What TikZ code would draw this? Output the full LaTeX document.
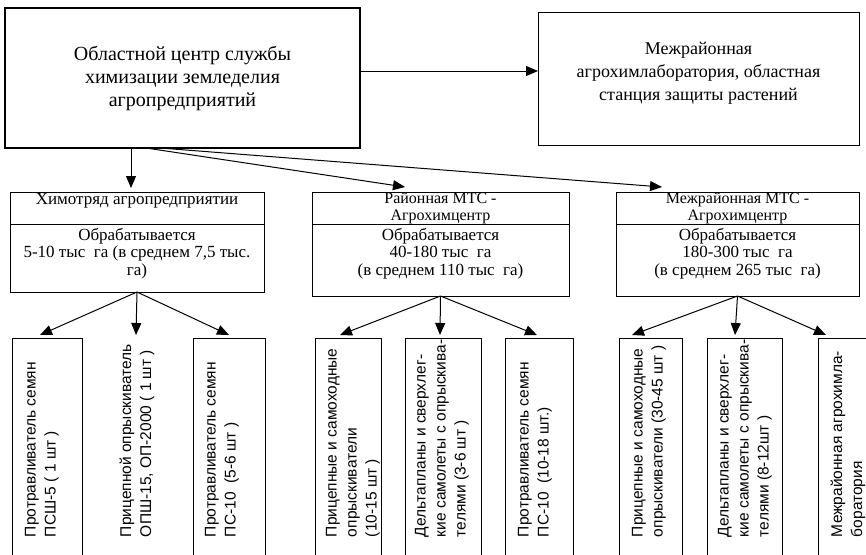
\documentclass[tikz,border=0pt]{standalone}
\usepackage{fontspec}
\setmainfont{Liberation Serif}
\newfontfamily\vsans{Liberation Sans}
\usetikzlibrary{arrows.meta}
\begin{document}
\begin{tikzpicture}[x=1pt,y=-1pt,
  every node/.style={inner sep=0pt, outer sep=0pt},
  bigbox/.style={draw, line width=2.6pt, rectangle, anchor=north west, align=center},
  box/.style={draw, line width=0.8pt, rectangle, anchor=north west, align=center},
  arr/.style={line width=1pt, -{Triangle[length=12pt,width=10pt]}},
  ttl/.style={font=\fontsize{20}{23}\selectfont},
  ttr/.style={font=\fontsize{18}{23}\selectfont},
  mid/.style={font=\fontsize{17}{17.5}\selectfont},
  hdr/.style={font=\fontsize{16}{16.5}\selectfont},
  vt/.style={rotate=90, anchor=west, align=left, font=\vsans\fontsize{15.5}{20}\selectfont}
]
\useasboundingbox (0,0) rectangle (866,554);
\clip (0,0) rectangle (866,554);
\fill[white] (0,0) rectangle (866,554);

% top level
\node[bigbox, ttl, minimum width=355pt, minimum height=140pt] (oc) at (5,8)
  {Областной центр службы\\химизации земледелия\\агропредприятий};
\node[box, minimum width=321pt, minimum height=133pt] (ml) at (538,12) {};
\node[ttr, align=center] (mlt) at ([yshift=5pt]ml.center)
  {Межрайонная\\агрохимлаборатория, областная\\станция защиты растений};
\coordinate (hy) at (0,71);
\draw[arr] (oc.east |- hy) -- (ml.west |- hy);

% second row
\node[box, minimum width=254pt, minimum height=32pt] (hA) at (10,192) {};
\node[mid, anchor=north] (hAt) at ([yshift=-1pt]hA.north) {Химотряд агропредприятии};
\node[box, minimum width=254pt, minimum height=68pt] (lA) at (10,224) {};
\node[mid, align=center, anchor=north] (lAt) at ([yshift=-4pt]lA.north)
  {Обрабатывается\\5-10 тыс\ \ га (в среднем 7,5 тыс.\\га)};
\node[box, hdr, minimum width=257pt, minimum height=32pt] (hB) at (312,192)
  {Районная МТС -\\Агрохимцентр};
\node[box, minimum width=257pt, minimum height=72pt] (lB) at (312,224) {};
\node[mid, align=center, anchor=north] (lBt) at ([yshift=-4pt]lB.north)
  {Обрабатывается\\40-180 тыс\ \ га\\(в среднем 110 тыс\ \ га)};
\node[box, hdr, minimum width=243pt, minimum height=32pt] (hC) at (616,192)
  {Межрайонная МТС -\\Агрохимцентр};
\node[box, minimum width=243pt, minimum height=72pt] (lC) at (616,224) {};
\node[mid, align=center, anchor=north] (lCt) at ([yshift=-4pt]lC.north)
  {Обрабатывается\\180-300 тыс\ \ га\\(в среднем 265 тыс\ \ га)};

% arrows from the top box
\coordinate (s1) at ([xshift=126pt]oc.south west);
\coordinate (s2) at ([xshift=141pt]oc.south west);
\coordinate (s3) at ([xshift=155pt]oc.south west);
\coordinate (tA) at (131,188);
\coordinate (tB) at (405,187);
\coordinate (tC) at (662,187);
\draw[arr] (s1) -- (tA);
\draw[arr] (s2) -- (tB);
\draw[arr] (s3) -- (tC);

% bottom row boxes
\node[box, minimum width=70pt, minimum height=230pt] (b11) at (12,338) {};
\node[box, minimum width=72pt, minimum height=230pt] (b13) at (193,338) {};
\node[box, minimum width=66pt, minimum height=230pt] (b21) at (315,338) {};
\node[box, minimum width=76pt, minimum height=230pt] (b22) at (405,338) {};
\node[box, minimum width=68pt, minimum height=230pt] (b23) at (505,338) {};
\node[box, minimum width=63pt, minimum height=230pt] (b31) at (619,338) {};
\node[box, minimum width=75pt, minimum height=230pt] (b32) at (707,338) {};
\node[box, minimum width=70pt, minimum height=230pt] (b33) at (818,338) {};

% bottom row texts
\node[vt] (x11) at (42,537) {Протравливатель семян\\ПСШ-5 ( 1 шт )};
\node[vt] (x12) at (137,537) {Прицепной опрыскиватель\\ОПШ-15, ОП-2000 ( 1 шт )};
\node[vt] (x13) at (222,537) {Протравливатель семян\\ПС-10\ \ (5-6 шт )};
\node[vt] (x21) at (353,537) {Прицепные и самоходные\\опрыскиватели\\(10-15 шт )};
\node[vt] (x22) at (442,537) {Дельтапланы и сверхлег-\\кие самолеты с опрыскива-\\телями (3-6 шт )};
\node[vt] (x23) at (535,537) {Протравливатель семян\\ПС-10\ \ (10-18 шт.)};
\node[vt] (x31) at (649,537) {Прицепные и самоходные\\опрыскиватели (30-45 шт )};
\node[vt] (x32) at (745,537) {Дельтапланы и сверхлег-\\кие самолеты с опрыскива-\\телями (8-12шт )};
\node[vt] (x33) at (848,537) {Межрайонная агрохимла-\\боратория};

% arrows from the second row
\coordinate (t11) at (40,335);
\coordinate (t12) at (136,335);
\coordinate (t13) at (229,335);
\coordinate (t21) at (340,335);
\coordinate (t22) at (440,335);
\coordinate (t23) at (537,335);
\coordinate (t31) at (632,335);
\coordinate (t32) at (735,335);
\coordinate (t33) at (826,335);
\foreach \t in {t11,t12,t13} \draw[arr] (lA.south) -- (\t);
\foreach \t in {t21,t22,t23} \draw[arr] (lB.south) -- (\t);
\foreach \t in {t31,t32,t33} \draw[arr] (lC.south) -- (\t);
\end{tikzpicture}
\end{document}
